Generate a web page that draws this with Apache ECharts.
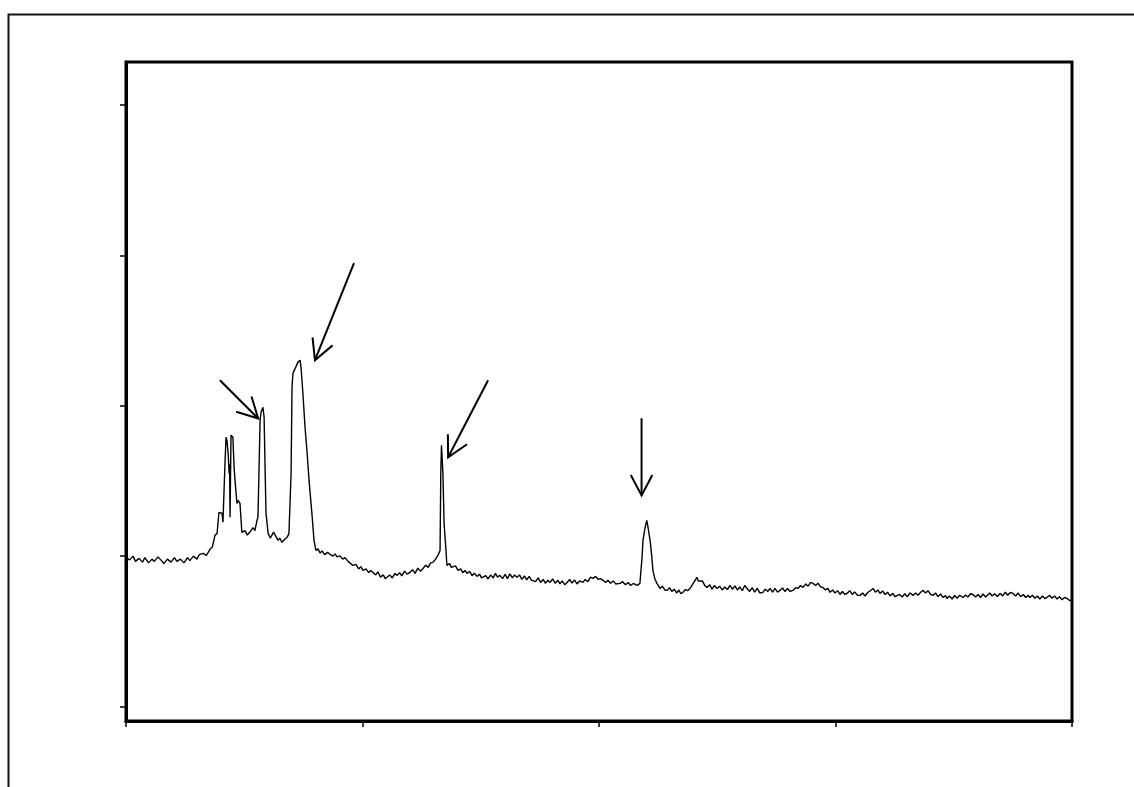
<!DOCTYPE html>
<html>
<head>
<meta charset="utf-8">
<script src="https://cdn.jsdelivr.net/npm/echarts@6/dist/echarts.min.js"></script>
<style>
html,body{margin:0;padding:0;background:#fff;}
#chart{width:1134px;height:787px;}
</style>
</head>
<body>
<div id="chart"></div>
<script>
// x axis (arbitrary units, no labels in the reference)
const xTicks = [0, 100, 200, 300, 400];
// y axis tick positions (no labels in the reference)
const yTicks = [0, 100, 200, 300, 400];

// spectrum trace: [x, intensity]
const trace = [
[0,99],[1.5,97.5],[3,100],[4,96.5],[5.5,98.5],[7,96],[8,99],[9.5,95.5],[11,98],[12,96.5],[13.5,99.5],[15,97],[16,95],[17.5,98],[19,96],[20.5,99],[21.5,96.5],[23,98],[24.5,95.5],[26,99],[27,97],[28.5,100],[30,98],[31,101],[32.6,101.8],[34,100.5],[35.5,104.5],[36.5,106],[37.6,113.8],[38.5,115],[39.3,129],[40.6,128.5],[41,122.5],[41.9,163.7],[42.3,179],[42.7,177],[43.2,168],[43.6,155],[43.8,161],[44.0,125.8],[44.4,180.4],[45.2,179],[45.7,159],[46.1,150.4],[46.9,135],[47.4,137],[48.2,135],[49,115.8],[50.3,117],[51.3,114],[52.4,116],[53.7,119],[54.5,117],[55.4,123.8],[55.8,125.8],[56.7,190.3],[57.1,195.7],[57.9,199],[58.4,192.3],[58.8,159],[59.2,128.5],[60.1,115.1],[61,112],[61.7,112.5],[62.4,116],[63,115.8],[64.3,110.5],[65,112],[66,109.2],[67,111],[68.1,112.5],[68.9,115],[69.8,155],[70.2,212.3],[70.6,221.6],[71.3,224],[71.9,225],[72.7,229],[73.6,230.3],[74,225.6],[74.8,208.3],[75.7,185.7],[76.5,170.4],[77.4,150.4],[78.6,128.5],[79.5,110.5],[80.3,103.8],[81.2,104.8],[82.1,102],[82.9,103.5],[84,101],[85.2,102.5],[86.3,101.2],[87.5,100],[88.4,101.5],[89.2,99.5],[90.5,100.2],[91.6,98],[92.6,99],[93.9,96.5],[95,95],[96,93.8],[97.2,94.5],[98.4,91.5],[99.3,93],[100.2,90.5],[101.5,91.5],[102.6,89],[103.5,90.5],[104.4,89.2],[105.6,87.5],[106.5,89.5],[107.6,86],[108.8,87.5],[109.6,85],[110.4,85.9],[111.5,87.5],[112.6,85.5],[113.7,88.5],[114.6,87.2],[115.7,89],[116.6,86.8],[117.8,90],[118.9,88],[120.1,89.2],[121.2,91],[122.2,88.5],[123.4,92],[124.5,90],[125.6,91.8],[126.7,94],[127.8,92.5],[128.8,95.5],[129.8,95.8],[130.9,98],[131.9,100.5],[132.8,103.8],[133.1,155],[133.4,173.7],[134,155],[134.5,121.8],[135.3,103.8],[135.7,93.8],[136.8,95],[137.6,92.5],[138.3,91.8],[139.3,93.5],[140.4,90.5],[141.5,91.5],[142.4,89],[143.3,90.5],[144.2,88.5],[145.3,89.8],[146.3,87],[147.3,88.6],[148.4,86.5],[149.5,88],[150.3,85.5],[151,85.2],[152.1,87],[153.1,84.8],[154.2,87.5],[155.3,85.5],[156.2,88.5],[157.1,86],[158.1,87.2],[159.2,85],[160.3,87.8],[161.3,85],[162.3,88.2],[163.4,85.5],[164.3,87.5],[165.3,85.9],[166.4,87.5],[167.4,84.5],[168.5,86.8],[169.4,84.2],[170.5,86.5],[171.4,84],[172.1,85.2],[173.2,83],[174.3,85.5],[175.3,82.5],[176.4,84.5],[177.3,82],[178.4,84],[179.3,82.5],[180.4,84.8],[181.5,82],[182.6,84],[183.5,81.5],[184.4,83.5],[185.5,81],[186.5,82.5],[187.6,84.5],[188.6,82],[189.6,84.2],[190.7,81.5],[191.8,83.5],[193.2,82.5],[194.2,84.5],[195.3,83],[196.4,86],[197.5,85.2],[198.6,86.5],[199.7,84.5],[200.6,85],[201.7,83.9],[202.8,82.5],[203.8,84],[204.9,82],[206,83.5],[207,81.5],[208.9,81.9],[210,83],[211.2,81],[212.3,82.5],[213.4,80.5],[214.5,81.8],[216.1,80.5],[217.3,81.9],[218.2,99.2],[218.6,110.5],[219.5,119.1],[220.2,123.8],[220.7,119.5],[221.6,110.5],[222.3,100],[222.8,90.5],[223.6,85],[224.5,81.9],[225.8,78.5],[226.8,80],[227.8,77.5],[228.8,77.2],[229.8,79],[230.8,76.5],[231.8,78],[232.8,75.5],[233.8,77.5],[234.6,75],[235.5,75.9],[236.5,77.8],[237.5,77],[238.5,78.5],[239.5,81],[240.3,83],[241.4,85.9],[242,83.5],[242.7,82.5],[243.7,83.5],[244.7,80.5],[245.7,79.2],[246.8,81],[247.8,78],[248.8,80.5],[249.9,78.5],[251,80],[252.1,77.5],[253.2,79.5],[254.3,77.8],[255.4,80.5],[256.4,78],[257.5,80.2],[258.5,77.5],[259.5,79.5],[260.6,77],[261.6,80.5],[262.6,78.5],[263.7,76.5],[264.8,79],[265.8,76],[266.9,78.5],[268,75.5],[269.3,75.9],[270.3,78],[271.4,76.5],[272.3,78.5],[273.4,76],[274.4,78.5],[275.5,76],[276.5,77.2],[277.6,78.8],[278.6,76.5],[279.7,78.5],[280.8,76.5],[282,77.2],[283.1,79],[284.1,78.5],[285.2,80.5],[286.3,79.2],[287.4,81.5],[288.4,80],[289.5,82.5],[290.5,81.9],[291.6,80.5],[292.6,82],[293.7,79.5],[294.7,79.2],[295.8,77.5],[296.8,78.5],[297.7,75.9],[298.8,77.5],[299.8,75.5],[300.9,77],[301.9,74.5],[302.9,76.5],[304,74.5],[304.9,75.2],[306,77],[307.1,74.5],[308.1,76.2],[309.3,74],[310.4,73.9],[311.5,75.5],[312.5,73.5],[313.6,75.8],[314.7,77],[315.9,78.5],[316.9,76],[317.9,77.5],[318.8,75.2],[319.9,76.8],[321,74.5],[322,76],[323.1,73.5],[324.2,75.2],[325.2,73],[326,72.5],[327.1,74.5],[328.2,72.8],[329.3,75],[330.4,73],[331.5,75.5],[332.8,73.9],[333.9,75.5],[334.9,74],[336,76],[337,77.2],[338.1,75.5],[339.1,77],[340.2,74.5],[341.2,73.9],[342.3,75.5],[343.3,73],[344.4,74.8],[345.5,72.5],[346.5,73.8],[347.1,71.9],[348.2,73.5],[349.3,71.5],[350.4,73.8],[351.4,72],[352.5,74],[353.9,72.5],[355,74.2],[356,72.8],[357.1,75],[358.1,74.5],[359.2,72.8],[360.3,74.5],[361.4,72.5],[362.4,74.8],[363.5,72.8],[364.1,73.9],[365.2,75.5],[366.2,73.5],[367.3,75],[368.4,73.2],[369.6,75.2],[370.7,73.5],[371.8,76],[372.8,74],[373.9,75.8],[375.1,75.2],[376.2,73.5],[377.2,75.5],[378.3,73],[379.4,74.5],[380.4,72.5],[381.4,74],[382.2,72.5],[383.3,74],[384.3,72],[385.4,73.5],[386.4,71.5],[387.5,73.5],[388.5,71.8],[389.4,72.5],[390.5,74],[391.5,72],[392.6,73.5],[393.7,71.5],[394.7,73],[395.8,71],[396.8,72.5],[397.9,71.9],[399,70.5],[400,70.5]
];

// annotation arrows: tail point -> tip point (data coordinates)
const arrowTails = [[39.7,217],[96.4,294.8],[153.1,217],[218.0,191.7]];
const arrowTips  = [[55.9,191.5],[79.9,230.3],[136.2,165.7],[218.0,140.4]];

const arrowData = arrowTails.map((t, i) => [t[0], t[1], arrowTips[i][0], arrowTips[i][1]]);

const chart = echarts.init(document.getElementById('chart'), null, {renderer: 'canvas'});

const option = {
  animation: false,
  backgroundColor: '#ffffff',
  graphic: [{
    type: 'rect',
    left: 6, top: 12,
    shape: {width: 1140, height: 800},
    style: {fill: 'none', stroke: '#111', lineWidth: 2},
    silent: true,
    z: -1
  }],
  grid: {
    left: 126, right: 62, top: 62, bottom: 66,
    show: true,
    borderColor: '#000',
    borderWidth: 3,
    backgroundColor: 'transparent'
  },
  xAxis: {
    type: 'value',
    min: xTicks[0], max: xTicks[xTicks.length - 1], interval: 100,
    axisLine: {show: true, onZero: false, lineStyle: {color: '#000', width: 3}},
    axisTick: {show: true, inside: false, length: 6, lineStyle: {color: '#000', width: 1.5}},
    axisLabel: {show: false},
    splitLine: {show: false}
  },
  yAxis: {
    type: 'value',
    min: -9.65, max: 428.6,
    axisLine: {show: true, onZero: false, lineStyle: {color: '#000', width: 3}},
    axisTick: {show: true, inside: false, length: 6, customValues: yTicks, lineStyle: {color: '#000', width: 1.5}},
    axisLabel: {show: false, customValues: yTicks},
    splitLine: {show: false}
  },
  series: [
    {
      type: 'line',
      data: trace,
      showSymbol: false,
      symbol: 'none',
      lineStyle: {color: '#000', width: 1.4},
      z: 3
    },
    {
      type: 'custom',
      data: arrowData,
      encode: {x: [0, 2], y: [1, 3]},
      clip: false,
      z: 4,
      renderItem: function (params, api) {
        const p1 = api.coord([api.value(0), api.value(1)]);
        const p2 = api.coord([api.value(2), api.value(3)]);
        const ang = Math.atan2(p2[1] - p1[1], p2[0] - p1[0]);
        const L = 23, a = 28 * Math.PI / 180;
        const w1 = [p2[0] - L * Math.cos(ang - a), p2[1] - L * Math.sin(ang - a)];
        const w2 = [p2[0] - L * Math.cos(ang + a), p2[1] - L * Math.sin(ang + a)];
        const st = {stroke: '#000', lineWidth: 2, fill: 'none'};
        return {
          type: 'group',
          children: [
            {type: 'line', shape: {x1: p1[0], y1: p1[1], x2: p2[0], y2: p2[1]}, style: st},
            {type: 'polyline', shape: {points: [w1, p2, w2]}, style: st}
          ]
        };
      }
    }
  ]
};
chart.setOption(option);
</script>
</body>
</html>
